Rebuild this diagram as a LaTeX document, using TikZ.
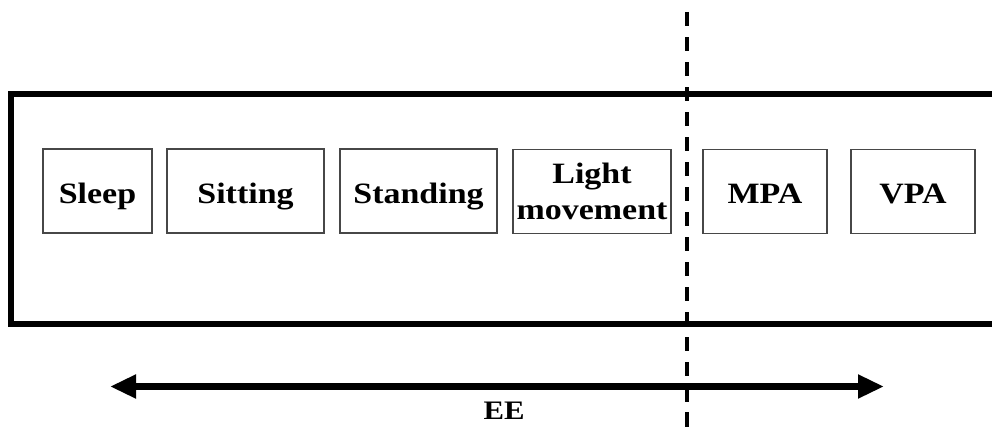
\documentclass[tikz,border=0pt]{standalone}
\usepackage{fontspec}
\setmainfont{Liberation Serif}
\newfontfamily\labelfont{Liberation Serif}[FakeStretch=1.15]
\usetikzlibrary{arrows.meta}
\tikzset{
  actbox/.style={draw=black!72, line width=0.9pt, inner sep=0pt, minimum height=2.1cm,
    align=center, font=\labelfont\fontsize{21}{25.5}\selectfont\bfseries},
  oneline/.style={text height=0.6cm, text depth=0pt},
  frameline/.style={line width=4.4pt},
  divider/.style={line width=3.5pt, dash pattern=on 10pt off 7.8pt},
  eearrow/.style={line width=4.8pt, {Triangle[length=0.65cm,width=0.56cm]}-{Triangle[length=0.65cm,width=0.56cm]}},
  eelabel/.style={font=\labelfont\fontsize{19}{22}\selectfont\bfseries, inner sep=0pt,
    text height=0.45cm, text depth=0pt}
}
\begin{document}
\begin{tikzpicture}[x=0.025cm, y=-0.025cm]
\useasboundingbox (0,0) rectangle (992,427);
% frame open on the right
\draw[frameline] (992,94) -- (11,94) -- (11,324) -- (992,324);
% activity boxes
\node[actbox, oneline, minimum width=2.725cm] (sleep) at (97.5,191) {Sleep};
\node[actbox, oneline, minimum width=3.925cm] (sitting) at (245.5,191) {Sitting};
\node[actbox, oneline, minimum width=3.925cm] (standing) at (418.5,191) {Standing};
\node[actbox, minimum width=3.95cm] (light) at (592,191.5) {Light\\movement};
\node[actbox, oneline, minimum width=3.1cm] (mpa) at (765,191.5) {MPA};
\node[actbox, oneline, minimum width=3.1cm] (vpa) at (913,191.5) {VPA};
% divider
\coordinate (divtop) at (687,12);
\coordinate (divbot) at (687,430);
\draw[divider] (divtop) -- (divbot);
% EE arrow
\coordinate (eeL) at (110,386.5);
\coordinate (eeR) at (884,386.5);
\draw[eearrow] (eeL) -- (eeR);
\node[eelabel] (ee) at (504,410) {EE};
\end{tikzpicture}
\end{document}
